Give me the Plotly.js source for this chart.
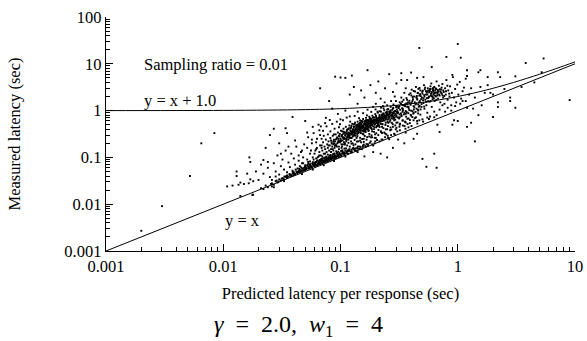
<!DOCTYPE html>
<html><head><meta charset="utf-8">
<script src="https://cdn.plot.ly/plotly-3.0.1.min.js"></script>
<style>html,body{margin:0;padding:0;background:#fff}#chart{width:587px;height:341px}</style>
</head><body><div id="chart"></div>
<script>
// Reference lines
const identityX = [0.001, 0.01, 0.1, 1, 10];
const identityY = [0.001, 0.01, 0.1, 1, 10];
const offsetX = [0.001, 0.01, 0.05, 0.1, 0.2, 0.3, 0.5, 0.7, 1, 1.5, 2, 3, 5, 7, 10];
const offsetY = [1.001, 1.01, 1.05, 1.1, 1.2, 1.3, 1.5, 1.7, 2, 2.5, 3, 4, 6, 8, 11];

// Scatter (predicted, measured), by region
const lowerBand = [[0.021,0.022],[0.022,0.021],[0.023,0.025],[0.024,0.023],[0.026,0.028],[0.026,0.024],[0.027,0.026],[0.028,0.031],[0.029,0.029],[0.030,0.034],[0.031,0.032],[0.032,0.036],[0.033,0.034],[0.033,0.031],[0.034,0.038],[0.035,0.036],[0.035,0.041],[0.036,0.039],[0.037,0.043],[0.038,0.040],[0.039,0.045],[0.040,0.042],[0.040,0.048],[0.041,0.044],[0.042,0.050],[0.043,0.046],[0.044,0.052],[0.045,0.048],[0.045,0.055],[0.046,0.050],[0.047,0.057],[0.047,0.044],[0.048,0.052],[0.049,0.060],[0.050,0.054],[0.050,0.063],[0.051,0.056],[0.052,0.066],[0.053,0.058],[0.054,0.062],[0.055,0.060],[0.055,0.070],[0.056,0.065],[0.057,0.062],[0.058,0.072],[0.058,0.055],[0.059,0.066],[0.060,0.064],[0.060,0.076],[0.061,0.069],[0.062,0.080],[0.063,0.068],[0.064,0.074],[0.065,0.071],[0.065,0.083],[0.066,0.077],[0.067,0.072],[0.068,0.087],[0.069,0.079],[0.070,0.075],[0.070,0.090],[0.071,0.082],[0.072,0.078],[0.072,0.068],[0.073,0.094],[0.074,0.084],[0.075,0.080],[0.076,0.098],[0.077,0.088],[0.078,0.083],[0.079,0.101],[0.080,0.091],[0.081,0.086],[0.082,0.105],[0.083,0.095],[0.084,0.089],[0.085,0.110],[0.086,0.097],[0.088,0.093],[0.088,0.084],[0.089,0.114],[0.090,0.101],[0.092,0.097],[0.093,0.120],[0.095,0.106],[0.097,0.102],[0.098,0.125],[0.100,0.110],[0.102,0.107],[0.104,0.133],[0.106,0.117],[0.108,0.113],[0.110,0.140],[0.110,0.104],[0.113,0.124],[0.116,0.120],[0.119,0.150],[0.122,0.131],[0.125,0.128],[0.129,0.160],[0.133,0.140],[0.137,0.139],[0.140,0.130],[0.141,0.172],[0.146,0.152],[0.152,0.150],[0.158,0.188],[0.164,0.168],[0.171,0.175],[0.178,0.205],[0.186,0.190],[0.190,0.180],[0.195,0.200],[0.205,0.235],[0.215,0.220],[0.228,0.240],[0.240,0.270],[0.255,0.262],[0.260,0.245],[0.270,0.300],[0.290,0.310],[0.360,0.340]];

const lowerBandFill = [[0.0255,0.027],[0.0285,0.032],[0.0315,0.035],[0.0345,0.04],[0.0372,0.041],[0.0398,0.046],[0.0425,0.047],[0.0452,0.051],[0.0478,0.058],[0.0505,0.057],[0.0532,0.064],[0.0561,0.061],[0.0587,0.069],[0.0613,0.073],[0.0644,0.07],[0.0671,0.081],[0.0697,0.083],[0.0728,0.08],[0.0754,0.092],[0.0782,0.089],[0.0813,0.097],[0.0847,0.094],[0.0879,0.105],[0.0912,0.107],[0.0948,0.112],[0.0987,0.118],[0.1032,0.121],[0.1075,0.128],[0.1124,0.134],[0.118,0.137],[0.124,0.146],[0.131,0.152],[0.139,0.161],[0.0415,0.055],[0.0462,0.061],[0.0523,0.069],[0.0575,0.075],[0.0632,0.085],[0.0683,0.092],[0.0741,0.1],[0.0806,0.108],[0.0865,0.118],[0.0935,0.126],[0.1012,0.137],[0.0332,0.039],[0.0367,0.044],[0.0392,0.049],[0.0441,0.049],[0.0493,0.055],[0.0548,0.066],[0.0602,0.067],[0.0656,0.078],[0.0713,0.085],[0.0769,0.095],[0.0831,0.1],[0.0895,0.098],[0.0964,0.108],[0.106,0.125],[0.115,0.142],[0.127,0.155],[0.146,0.17],[0.155,0.168],[0.167,0.193],[0.181,0.22],[0.0296,0.0305],[0.0323,0.0352],[0.0351,0.0378],[0.0384,0.0417],[0.0407,0.0438],[0.0433,0.0489],[0.0468,0.0512],[0.0487,0.0533],[0.0512,0.0596],[0.0538,0.0587],[0.0566,0.0643],[0.0594,0.0681],[0.0621,0.0668],[0.0649,0.0762],[0.0678,0.0738],[0.0706,0.0812],[0.0734,0.0876],[0.0763,0.0843],[0.0792,0.0938],[0.0824,0.0921],[0.0857,0.1022],[0.0891,0.1063],[0.0926,0.1041],[0.0963,0.1157],[0.1004,0.1142],[0.1048,0.1247],[0.1093,0.1218],[0.1139,0.1321],[0.1188,0.1412],[0.1241,0.1367],[0.1296,0.1483],[0.1353,0.1556],[0.1416,0.1528],[0.1482,0.1662],[0.1553,0.1788],[0.1628,0.1744],[0.0531,0.0731],[0.0582,0.0789],[0.0638,0.0859],[0.0697,0.0951],[0.0757,0.104],[0.0821,0.1128],[0.0889,0.1214],[0.0958,0.1327],[0.1036,0.1418],[0.1117,0.1559],[0.0445,0.0573],[0.0498,0.0641],[0.0553,0.0716],[0.0612,0.0798],[0.0668,0.0883],[0.0725,0.0968],[0.172,0.19],[0.198,0.22],[0.224,0.24],[0.253,0.29],[0.287,0.32],[0.321,0.38],[0.358,0.41],[0.403,0.47],[0.452,0.53],[0.507,0.58],[0.568,0.66],[0.63,0.72],[0.2,0.26],[0.246,0.31],[0.305,0.36],[0.38,0.44],[0.47,0.62],[0.55,0.71]];

const mainBlob = [[0.060,0.12],[0.062,0.15],[0.064,0.10],[0.066,0.13],[0.067,0.18],[0.068,0.11],[0.069,0.16],[0.070,0.14],[0.071,0.21],[0.072,0.12],[0.073,0.17],[0.074,0.15],[0.075,0.24],[0.076,0.13],[0.077,0.19],[0.078,0.16],[0.079,0.22],[0.080,0.14],[0.081,0.18],[0.082,0.26],[0.083,0.15],[0.084,0.21],[0.085,0.17],[0.086,0.29],[0.087,0.19],[0.088,0.24],[0.089,0.16],[0.090,0.22],[0.091,0.31],[0.092,0.18],[0.093,0.26],[0.094,0.20],[0.095,0.34],[0.096,0.23],[0.097,0.17],[0.098,0.28],[0.099,0.21],[0.100,0.25],[0.101,0.37],[0.102,0.19],[0.103,0.30],[0.104,0.23],[0.105,0.27],[0.106,0.41],[0.107,0.21],[0.108,0.33],[0.109,0.25],[0.110,0.29],[0.111,0.45],[0.112,0.22],[0.113,0.36],[0.114,0.27],[0.115,0.31],[0.116,0.40],[0.117,0.24],[0.118,0.34],[0.119,0.48],[0.120,0.29],[0.121,0.38],[0.122,0.26],[0.123,0.43],[0.124,0.32],[0.125,0.36],[0.126,0.52],[0.127,0.28],[0.128,0.40],[0.129,0.34],[0.130,0.46],[0.131,0.30],[0.132,0.38],[0.133,0.55],[0.134,0.42],[0.135,0.33],[0.136,0.49],[0.137,0.36],[0.138,0.44],[0.139,0.31],[0.140,0.58],[0.141,0.40],[0.142,0.47],[0.143,0.35],[0.144,0.52],[0.145,0.43],[0.146,0.38],[0.147,0.62],[0.148,0.45],[0.149,0.33],[0.150,0.50],[0.152,0.41],[0.153,0.56],[0.154,0.37],[0.155,0.47],[0.156,0.66],[0.158,0.43],[0.159,0.53],[0.160,0.39],[0.162,0.60],[0.163,0.48],[0.164,0.35],[0.165,0.70],[0.167,0.45],[0.168,0.55],[0.169,0.41],[0.171,0.63],[0.173,0.50],[0.174,0.38],[0.176,0.74],[0.177,0.47],[0.179,0.58],[0.180,0.43],[0.182,0.67],[0.184,0.52],[0.185,0.40],[0.187,0.78],[0.189,0.56],[0.190,0.46],[0.192,0.63],[0.194,0.71],[0.196,0.50],[0.198,0.84],[0.200,0.59],[0.202,0.44],[0.204,0.67],[0.206,0.55],[0.208,0.90],[0.210,0.62],[0.213,0.48],[0.215,0.75],[0.218,0.58],[0.221,0.95],[0.224,0.66],[0.227,0.52],[0.230,0.80],[0.233,0.61],[0.236,1.02],[0.240,0.70],[0.243,0.55],[0.247,0.86],[0.251,0.64],[0.255,1.08],[0.259,0.75],[0.263,0.58],[0.268,0.92],[0.272,0.69],[0.277,0.82],[0.282,1.15],[0.287,0.62],[0.292,0.98],[0.298,0.74],[0.304,0.88],[0.310,1.22],[0.316,0.68],[0.323,1.04],[0.330,0.80],[0.338,0.94],[0.346,1.30]];

const mainBlobFill = [[0.083,0.23],[0.091,0.19],[0.097,0.29],[0.104,0.36],[0.109,0.2],[0.118,0.27],[0.124,0.47],[0.131,0.35],[0.137,0.26],[0.143,0.41],[0.151,0.6],[0.157,0.31],[0.163,0.52],[0.172,0.44],[0.178,0.69],[0.186,0.36],[0.193,0.55],[0.201,0.77],[0.209,0.51],[0.217,0.66],[0.226,0.45],[0.238,0.62],[0.249,0.93],[0.261,0.71],[0.274,0.55],[0.285,0.88],[0.096,0.25],[0.112,0.32],[0.127,0.39],[0.134,0.29],[0.146,0.49],[0.154,0.43],[0.161,0.36],[0.166,0.58],[0.175,0.53],[0.181,0.48],[0.188,0.61],[0.195,0.44],[0.203,0.54],[0.212,0.7],[0.222,0.59],[0.231,0.73],[0.244,0.66],[0.256,0.82],[0.266,0.63],[0.279,0.75],[0.293,0.64],[0.108,0.26],[0.119,0.31],[0.123,0.22],[0.139,0.38],[0.148,0.56],[0.157,0.39],[0.169,0.47],[0.183,0.57],[0.197,0.65],[0.207,0.47],[0.219,0.52],[0.234,0.86],[0.252,0.58],[0.269,0.78],[0.088,0.2],[0.093,0.17],[0.101,0.22],[0.116,0.3],[0.129,0.29],[0.141,0.33],[0.153,0.45],[0.171,0.4],[0.187,0.5],[0.205,0.63],[0.079,0.18],[0.086,0.15],[0.105,0.19],[0.113,0.25],[0.125,0.34],[0.136,0.46],[0.149,0.37],[0.162,0.42],[0.176,0.61],[0.191,0.72],[0.214,0.61],[0.229,0.68],[0.246,0.77],[0.263,0.96],[0.281,0.67],[0.302,1.05],[0.318,0.83],[0.335,1.12],[0.352,0.9],[0.371,1.2],[0.0915,0.243],[0.0987,0.318],[0.1043,0.262],[0.1068,0.352],[0.1096,0.298],[0.1137,0.391],[0.1162,0.334],[0.1189,0.263],[0.1215,0.427],[0.1253,0.309],[0.1281,0.372],[0.1306,0.513],[0.1327,0.327],[0.1358,0.402],[0.1384,0.472],[0.1412,0.358],[0.1437,0.447],[0.1466,0.541],[0.1491,0.412],[0.1518,0.468],[0.1547,0.593],[0.1573,0.356],[0.1602,0.506],[0.1628,0.441],[0.1655,0.627],[0.1684,0.498],[0.1712,0.552],[0.1741,0.437],[0.1769,0.645],[0.1797,0.519],[0.1826,0.602],[0.1858,0.486],[0.1887,0.706],[0.1918,0.567],[0.1951,0.624],[0.1983,0.525],[0.2015,0.731],[0.2049,0.602],[0.2082,0.677],[0.2117,0.556],[0.2153,0.804],[0.2191,0.641],[0.2228,0.716],[0.2266,0.597],[0.2307,0.868],[0.2348,0.694],[0.2391,0.771],[0.2435,0.912],[0.2478,0.712],[0.2523,0.796],[0.2571,0.668],[0.2619,0.852],[0.2668,1.01],[0.2719,0.771],[0.2773,0.883],[0.2828,0.734],[0.2885,0.952],[0.2943,0.842],[0.3004,0.781],[0.3067,0.965],[0.1021,0.284],[0.1109,0.341],[0.1176,0.417],[0.1228,0.352],[0.1297,0.437],[0.1341,0.371],[0.1399,0.506],[0.1452,0.387],[0.1503,0.531],[0.1561,0.452],[0.1611,0.571],[0.1667,0.409],[0.1725,0.596],[0.1783,0.468],[0.1841,0.662],[0.1903,0.531],[0.1967,0.582],[0.2031,0.687],[0.2099,0.582],[0.2172,0.718],[0.2245,0.821],[0.2321,0.642],[0.2404,0.745],[0.2489,0.861],[0.2577,0.727],[0.2671,0.923],[0.2766,0.812],[0.2869,0.697],[0.0953,0.211],[0.1007,0.231],[0.1072,0.246],[0.1149,0.278],[0.1207,0.318],[0.1268,0.339],[0.1332,0.382],[0.1425,0.409],[0.1487,0.437],[0.1559,0.488],[0.1632,0.517],[0.1713,0.511],[0.1794,0.556],[0.1878,0.584],[0.1962,0.611],[0.2063,0.651],[0.2158,0.688],[0.2263,0.768],[0.2376,0.802],[0.2496,0.838],[0.2622,0.887],[0.0843,0.198],[0.0872,0.223],[0.0897,0.178],[0.0937,0.268],[0.0971,0.226],[0.1057,0.321],[0.1123,0.236],[0.1176,0.297],[0.1244,0.259],[0.1315,0.31],[0.1394,0.283],[0.1473,0.342],[0.1548,0.318],[0.1637,0.382],[0.1731,0.367],[0.1826,0.423],[0.1929,0.401],[0.2041,0.467],[0.2154,0.448],[0.2281,0.506],[0.2417,0.493],[0.2558,0.548]];

const blobEdges = [[0.103,0.172],[0.109,0.188],[0.117,0.205],[0.124,0.197],[0.132,0.236],[0.138,0.218],[0.147,0.262],[0.153,0.247],[0.161,0.287],[0.169,0.272],[0.176,0.318],[0.184,0.296],[0.193,0.351],[0.202,0.328],[0.211,0.386],[0.221,0.362],[0.232,0.423],[0.243,0.398],[0.254,0.467],[0.267,0.436],[0.279,0.512],[0.293,0.482],[0.307,0.558],[0.322,0.527],[0.338,0.612],[0.355,0.578],[0.372,0.668],[0.391,0.631],[0.41,0.73],[0.43,0.69],[0.147,0.228],[0.182,0.268],[0.226,0.331],[0.271,0.392],[0.318,0.452],[0.373,0.517],[0.129,0.182],[0.158,0.215],[0.196,0.262],[0.241,0.323],[0.296,0.397],[0.352,0.468],[0.262,0.82],[0.276,1.04],[0.289,0.79],[0.301,0.94],[0.314,1.13],[0.327,0.87],[0.341,1.02],[0.356,1.24],[0.368,0.92],[0.382,1.11],[0.396,1.33],[0.411,0.97],[0.426,1.18],[0.441,1.42],[0.457,1.05],[0.473,1.26],[0.309,0.71],[0.332,0.76],[0.347,0.83],[0.363,0.74],[0.379,0.88],[0.397,0.81],[0.418,0.86],[0.437,0.94],[0.459,0.87],[0.482,1.06],[0.283,0.93],[0.298,1.18],[0.337,1.31],[0.364,1.42],[0.386,1.02],[0.422,1.06],[0.466,1.21],[0.491,1.38],[0.517,1.22],[0.538,1.53],[0.031,0.12],[0.036,0.17],[0.041,0.23],[0.044,0.11],[0.049,0.19],[0.053,0.27],[0.056,0.14],[0.059,0.33],[0.062,0.21],[0.066,0.38],[0.069,0.25],[0.072,0.29],[0.076,0.46],[0.078,0.31],[0.082,0.36],[0.085,0.52],[0.089,0.41],[0.093,0.58],[0.097,0.44],[0.074,0.54],[0.081,0.63],[0.071,0.37],[0.063,0.16],[0.057,0.24],[0.047,0.14],[0.052,0.34],[0.068,0.46],[0.088,0.31],[0.099,0.51],[0.105,0.62],[0.113,0.71],[0.121,0.58],[0.132,0.77],[0.144,0.69],[0.156,0.88],[0.168,0.79],[0.183,0.94],[0.199,1.06],[0.216,0.97],[0.233,1.12]];

const between = [[0.048,0.075],[0.052,0.09],[0.055,0.082],[0.058,0.10],[0.062,0.095],[0.066,0.11],[0.070,0.105],[0.074,0.12],[0.078,0.115],[0.083,0.13],[0.087,0.14],[0.092,0.135],[0.097,0.15],[0.102,0.16],[0.108,0.155],[0.114,0.18],[0.120,0.17],[0.127,0.20],[0.134,0.19],[0.142,0.22],[0.150,0.21],[0.158,0.25],[0.167,0.24],[0.176,0.28],[0.186,0.27],[0.197,0.31],[0.210,0.30],[0.222,0.35],[0.236,0.34],[0.250,0.40],[0.265,0.38],[0.280,0.45],[0.300,0.43],[0.320,0.50],[0.340,0.48],[0.360,0.56],[0.390,0.54],[0.420,0.62],[0.450,0.60],[0.022,0.045],[0.024,0.06],[0.025,0.038],[0.027,0.075],[0.028,0.05],[0.029,0.11],[0.030,0.043],[0.031,0.065],[0.032,0.09],[0.033,0.055],[0.034,0.14],[0.035,0.048],[0.036,0.078],[0.037,0.062],[0.038,0.12],[0.039,0.052],[0.040,0.095],[0.041,0.07],[0.042,0.17],[0.043,0.058],[0.044,0.085],[0.045,0.065],[0.046,0.13],[0.047,0.075],[0.048,0.10],[0.050,0.068],[0.052,0.16],[0.053,0.08],[0.055,0.12],[0.057,0.20],[0.059,0.09],[0.061,0.14],[0.063,0.25],[0.065,0.105],[0.067,0.30],[0.069,0.18]];

const upperCloud = [[0.25,1.3],[0.26,0.95],[0.27,1.6],[0.28,1.1],[0.29,2.0],[0.30,1.25],[0.31,0.9],[0.32,1.5],[0.33,1.9],[0.34,1.1],[0.35,2.4],[0.355,1.35],[0.36,0.98],[0.37,1.7],[0.38,1.2],[0.385,2.2],[0.39,1.45],[0.40,1.0],[0.405,2.8],[0.41,1.6],[0.42,1.25],[0.425,2.0],[0.43,1.5],[0.44,3.2],[0.445,1.1],[0.45,1.8],[0.455,2.4],[0.46,1.35],[0.47,2.1],[0.475,1.6],[0.48,2.7],[0.49,1.2],[0.495,1.9],[0.50,2.3],[0.51,1.45],[0.515,3.5],[0.52,2.0],[0.53,1.7],[0.535,2.6],[0.54,1.3],[0.55,2.2],[0.555,3.0],[0.56,1.85],[0.57,2.45],[0.575,1.55],[0.58,2.9],[0.59,2.1],[0.595,3.8],[0.60,2.5],[0.61,1.75],[0.615,2.75],[0.62,2.2],[0.63,3.2],[0.635,1.6],[0.64,2.4],[0.65,2.0],[0.655,2.9],[0.66,4.2],[0.67,2.3],[0.68,1.8],[0.685,2.6],[0.69,3.4],[0.70,2.1],[0.71,1.5],[0.72,2.8],[0.73,2.3],[0.74,3.7],[0.75,1.9],[0.76,2.5],[0.77,1.4],[0.78,3.0],[0.79,2.2],[0.80,4.5],[0.82,1.7],[0.83,2.7],[0.85,2.0],[0.86,3.3],[0.88,1.3],[0.89,2.4],[0.91,5.2],[0.93,1.9],[0.95,2.9],[0.97,1.5],[0.99,3.6],[1.01,2.2],[1.04,4.1],[1.07,1.8],[1.10,2.6],[1.13,3.1],[1.17,1.6],[1.20,5.5],[0.30,0.55],[0.32,0.72],[0.34,0.62],[0.36,0.85],[0.38,0.68],[0.40,0.78],[0.42,0.90],[0.44,0.72],[0.46,1.0],[0.48,0.82],[0.50,0.65],[0.52,1.1],[0.55,0.90],[0.58,0.75],[0.60,1.2],[0.63,0.95],[0.66,0.80],[0.70,1.05],[0.74,1.3],[0.78,0.95],[0.82,1.15],[0.88,1.0],[0.95,1.25],[1.05,1.4]];

const upperCloudFill = [[0.365,1.85],[0.395,2.35],[0.415,1.75],[0.432,2.55],[0.448,2.05],[0.462,2.9],[0.478,2.25],[0.487,1.75],[0.503,2.65],[0.518,2.15],[0.527,3.1],[0.545,2.45],[0.562,2.7],[0.573,2.0],[0.585,3.3],[0.597,2.35],[0.607,2.9],[0.621,2.55],[0.638,2.1],[0.647,3.0],[0.662,2.45],[0.676,2.75],[0.693,2.2],[0.712,2.55],[0.728,3.1],[0.752,2.7],[0.768,2.05],[0.794,2.6],[0.815,3.4],[0.845,2.3],[0.545,1.85],[0.612,1.95],[0.656,1.7],[0.587,1.6],[0.468,1.5],[0.437,1.35],[0.405,1.45],[0.376,1.5],[0.345,1.7],[0.328,1.4],[0.312,1.15],[0.297,1.6],[0.283,1.35],[0.268,1.2],[0.25,1.05],[0.238,1.5],[0.222,1.15],[0.207,0.95],[0.402,2.11],[0.421,2.62],[0.443,1.92],[0.457,2.37],[0.472,3.05],[0.483,2.04],[0.498,2.52],[0.511,1.83],[0.523,2.86],[0.537,2.21],[0.551,2.57],[0.566,1.97],[0.578,2.63],[0.592,2.28],[0.603,2.03],[0.617,3.04],[0.628,2.35],[0.642,2.71],[0.668,2.1],[0.681,2.52],[0.703,2.87],[0.722,2.41],[0.741,2.12],[0.387,1.62],[0.412,1.95],[0.452,1.72],[0.506,1.66],[0.558,1.58],[0.626,1.82],[0.354,1.28],[0.372,1.36],[0.318,1.25],[0.336,1.55]];

const belowLine = [[0.25,0.10],[0.28,0.16],[0.22,0.12],[0.35,0.20],[0.42,0.25],[0.50,0.093],[0.54,0.063],[0.63,0.12],[0.66,0.06],[0.70,0.35],[0.90,0.50],[1.20,0.45],[1.40,0.22],[0.31,0.24],[0.19,0.13],[0.16,0.105],[0.45,0.32]];

const sparseUpper = [[0.09,5.3],[0.10,5.1],[0.11,5.0],[0.125,5.6],[0.17,7.3],[0.067,3.0],[0.08,1.6],[0.039,0.73],[0.05,0.6],[0.034,0.42],[0.12,2.2],[0.13,3.2],[0.15,2.7],[0.16,1.9],[0.18,3.5],[0.20,2.4],[0.21,4.2],[0.22,1.8],[0.24,3.0],[0.26,6.0],[0.28,2.5],[0.30,3.8],[0.33,4.5],[0.36,3.0],[0.40,6.5],[0.45,5.0],[0.47,21.8],[1.0,26.5],[0.8,14],[1.06,13.5],[3.8,10.4],[5.4,13],[9.0,1.68],[0.14,1.4],[0.19,1.2],[0.11,1.0],[0.095,0.85],[0.085,1.1],[0.075,0.7],[0.065,0.5],[0.058,0.45],[0.10,0.65],[0.12,0.75],[0.14,0.95],[0.17,1.05],[0.20,1.4],[0.23,1.25]];

const sparseRight = [[1.2,7.3],[1.56,7.3],[1.8,5.2],[2.2,6.6],[2.3,5.2],[3.1,5.4],[5.2,6.6],[2.8,1.9],[2.2,1.2],[3.1,1.15],[2.0,2.2],[1.56,3.2],[1.9,2.4],[1.7,2.4],[1.8,3.5],[1.5,6.6],[1.17,4.8],[2.2,1.5],[2.8,1.6],[2.0,0.73],[1.5,0.8],[1.3,0.55],[1.0,0.6],[0.93,0.62],[0.67,0.5],[1.3,3.0],[1.4,1.9],[1.6,1.3],[1.25,2.2],[1.35,1.1],[4.5,4.0],[3.5,3.2],[2.5,2.9],[1.1,1.6],[1.2,1.15],[0.6,8.5],[0.9,5.8],[0.51,5.2],[0.37,4.5],[0.33,6.3]];

const sparseLeft = [[0.003,0.0091],[0.002,0.0027],[0.0065,0.2],[0.0084,0.33],[0.0052,0.04],[0.0167,0.1],[0.0108,0.024],[0.014,0.015],[0.0177,0.0157],[0.012,0.025],[0.0135,0.026],[0.015,0.027],[0.0165,0.028],[0.018,0.031],[0.020,0.033],[0.019,0.05],[0.021,0.07],[0.023,0.16],[0.013,0.05],[0.016,0.045],[0.025,0.30],[0.030,0.20],[0.017,0.08],[0.026,0.033],[0.028,0.039],[0.013,0.04],[0.022,0.088],[0.024,0.08],[0.027,0.41],[0.035,0.33],[0.014,0.029],[0.017,0.034],[0.018,0.016],[0.027,0.023]];

const xTickVals = [0.001, 0.01, 0.1, 1, 10];
const xTickText = ['0.001', '0.01', '0.1', '1', '10'];
const yTickVals = [0.001, 0.01, 0.1, 1, 10, 100];
const yTickText = ['0.001', '0.01', '0.1', '1', '10', '100'];

function minorVals(lo, hi) {
  const out = [];
  for (let e = lo; e < hi; e++) for (let k = 2; k <= 9; k++) out.push(k * Math.pow(10, e));
  return out;
}

const allPts = [].concat(lowerBand, lowerBandFill, mainBlob, mainBlobFill, blobEdges, between, upperCloud, upperCloudFill, belowLine, sparseUpper, sparseRight, sparseLeft);

const serif = 'Liberation Serif, Times New Roman, serif';
const nb = '&nbsp;&nbsp;';

const traces = [
  {x: allPts.map(p => p[0]), y: allPts.map(p => p[1]), type: 'scatter', mode: 'markers',
   marker: {color: '#000', size: 1.9, symbol: 'square', line: {width: 0}}, hoverinfo: 'skip', showlegend: false},
  {x: identityX, y: identityY, type: 'scatter', mode: 'lines', line: {color: '#000', width: 1}, showlegend: false, hoverinfo: 'skip'},
  {x: offsetX, y: offsetY, type: 'scatter', mode: 'lines', line: {color: '#000', width: 1, shape: 'spline'}, showlegend: false, hoverinfo: 'skip'}
];

const axisCommon = {
  type: 'log', showgrid: false, zeroline: false, showline: true, linecolor: '#000', linewidth: 1.3,
  ticks: 'inside', ticklen: 7, tickwidth: 1, tickcolor: '#000', tickmode: 'array',
  tickfont: {family: serif, size: 16.5, color: '#000'}, mirror: false
};

const layout = {
  width: 587, height: 341,
  margin: {l: 106, r: 12, t: 17, b: 90},
  paper_bgcolor: '#fff', plot_bgcolor: '#fff',
  font: {family: serif, color: '#000'},
  showlegend: false,
  xaxis: Object.assign({}, axisCommon, {
    range: [-3, 1], tickvals: xTickVals, ticktext: xTickText,
    minor: {tickmode: 'array', tickvals: minorVals(-3, 1), ticks: 'inside', ticklen: 4, tickwidth: 1, tickcolor: '#000', showgrid: false},
    title: {text: 'Predicted latency per response (sec)', font: {family: serif, size: 16.5, color: '#000'}, standoff: 12}
  }),
  yaxis: Object.assign({}, axisCommon, {
    range: [-3, 2], tickvals: yTickVals, ticktext: yTickText,
    minor: {tickmode: 'array', tickvals: minorVals(-3, 2), ticks: 'inside', ticklen: 4, tickwidth: 1, tickcolor: '#000', showgrid: false},
    title: {text: 'Measured latency (sec)', font: {family: serif, size: 16.5, color: '#000'}, standoff: 39}
  }),
  annotations: [
    {xref: 'paper', yref: 'paper', x: 0.0768, y: 0.799, xanchor: 'left', yanchor: 'middle', showarrow: false,
     text: 'Sampling ratio = 0.01', font: {family: serif, size: 16.5, color: '#000'}},
    {xref: 'paper', yref: 'paper', x: 0.0768, y: 0.643, xanchor: 'left', yanchor: 'middle', showarrow: false,
     text: 'y = x + 1.0', font: {family: serif, size: 16.5, color: '#000'}},
    {xref: 'paper', yref: 'paper', x: 0.249, y: 0.13, xanchor: 'left', yanchor: 'middle', showarrow: false,
     text: 'y = x', font: {family: serif, size: 16.5, color: '#000'}},
    {xref: 'paper', yref: 'paper', x: (298 - 106) / 469, y: (251 - 326) / 234, xanchor: 'center', yanchor: 'middle', showarrow: false,
     text: '<i>γ</i>' + nb + '=' + nb + '2.0,' + nb + '<i>w</i><sub>1</sub>' + nb + '=' + nb + '4', font: {family: serif, size: 24, color: '#000'}}
  ]
};

Plotly.newPlot('chart', traces, layout, {displayModeBar: false, staticPlot: true});
</script>
</body></html>
